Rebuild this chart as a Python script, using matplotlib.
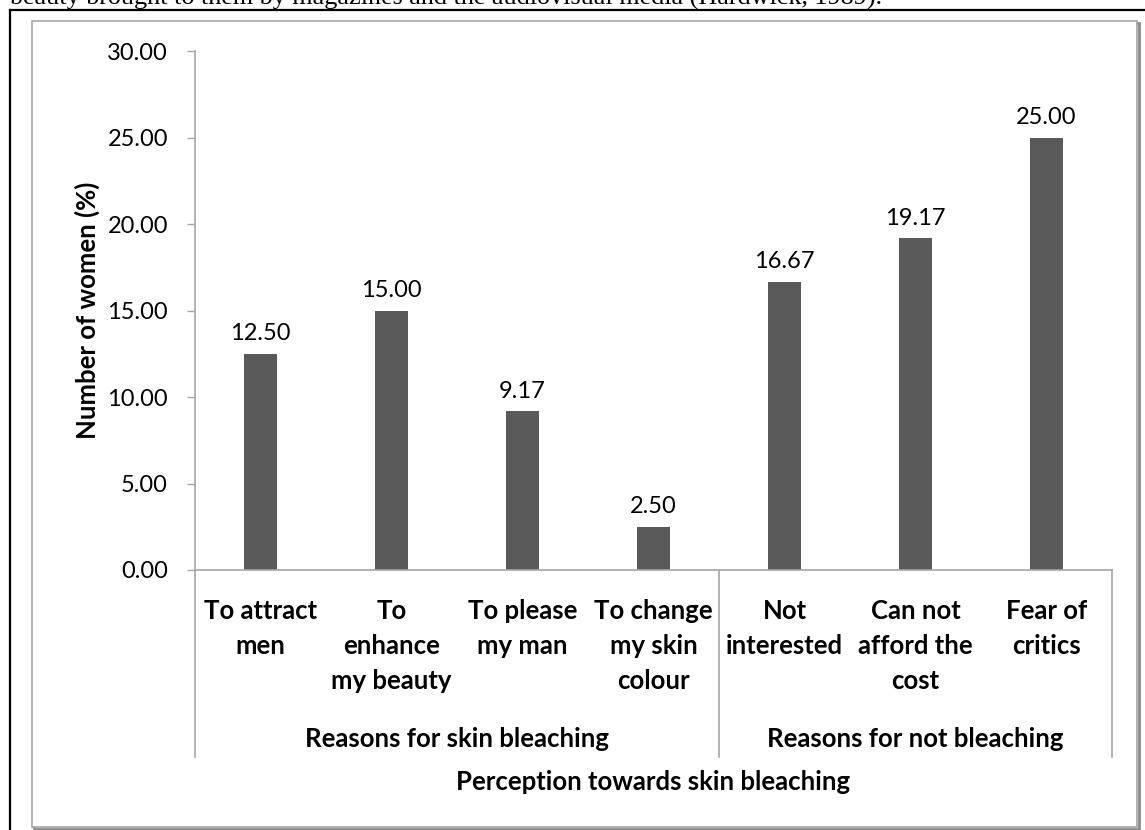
import matplotlib.pyplot as plt
from matplotlib.patches import Rectangle
from matplotlib.lines import Line2D

# data
categories = ['To attract\nmen', 'To\nenhance\nmy beauty', 'To please\nmy man',
              'To change\nmy skin\ncolour', 'Not\ninterested',
              'Can not\nafford the\ncost', 'Fear of\ncritics']
values = [12.50, 15.00, 9.17, 2.50, 16.67, 19.17, 25.00]
groups = ['Reasons for skin bleaching', 'Reasons for not bleaching']
group_sizes = [4, 3]
yticks = [0, 5, 10, 15, 20, 25, 30]

plt.rcParams['font.family'] = ['Lato', 'DejaVu Sans']

W, H = 1145, 830
fig = plt.figure(figsize=(W / 100, H / 100), dpi=100)

def fx(px):
    return px / W

def fy(py):
    return 1 - py / H

# cut-off text line above the figure box
fig.text(fx(10), fy(5), 'beauty brought to them by magazines and the audiovisual media (Hardwick, 1989).',
         family='Liberation Serif', fontsize=18.8, va='baseline', ha='left')

# black frame (left + top)
fig.add_artist(Line2D([fx(10), fx(10)], [fy(10), 0], color='black', lw=1.6))
fig.add_artist(Line2D([fx(10), 1], [fy(10), fy(10)], color='black', lw=1.6))

# chart box with a small shadow
fig.add_artist(Rectangle((fx(34), fy(829)), fx(1139) - fx(34), fy(23) - fy(829),
                         facecolor='none', edgecolor='#8c8c8c', lw=2.0, zorder=-2))
fig.add_artist(Rectangle((fx(32), fy(827)), fx(1137) - fx(32), fy(21) - fy(827),
                         facecolor='white', edgecolor='#a6a6a6', lw=1.2, zorder=-1))

ax = fig.add_axes([fx(195), fy(570), fx(1112) - fx(195), fy(51) - fy(570)])
ax.set_facecolor('none')
x = list(range(len(values)))
ax.bar(x, values, width=0.245, color='#5a5a5a')

for xi, v in zip(x, values):
    ax.annotate(f'{v:.2f}', (xi, v), xytext=(0, 7), textcoords='offset points',
                ha='center', va='bottom', fontsize=17)

ax.set_xlim(-0.5, len(values) - 0.5)
ax.set_ylim(0, 30)
ax.set_yticks(yticks)
ax.set_yticklabels([f'{t:.2f}' for t in yticks], fontsize=17)
ax.tick_params(axis='y', length=6, width=1, color='#a6a6a6', pad=13.5)
ax.set_xticks([])
for s in ['top', 'right']:
    ax.spines[s].set_visible(False)
for s in ['left', 'bottom']:
    ax.spines[s].set_color('#a6a6a6')
    ax.spines[s].set_linewidth(1.2)

ax.set_ylabel('Number of women (%)', fontsize=18.5, fontweight='bold', labelpad=5)

# category labels
trans = ax.get_xaxis_transform()
for xi, lab in zip(x, categories):
    ax.text(xi, -0.055, lab, transform=trans, ha='center', va='top',
            fontsize=18.5, fontweight='bold', linespacing=1.55)

# group separators and labels
sep = -0.5
seps = [sep]
for n in group_sizes:
    sep += n
    seps.append(sep)
for s in seps:
    ax.add_line(Line2D([s, s], [0, -0.36], transform=trans, color='#a6a6a6',
                       lw=1.2, clip_on=False))
for i, g in enumerate(groups):
    ax.text((seps[i] + seps[i + 1]) / 2, -0.341, g, transform=trans, ha='center',
            va='baseline', fontsize=18.5, fontweight='bold')

ax.text(0.5, -0.424, 'Perception towards skin bleaching', transform=ax.transAxes,
        ha='center', va='baseline', fontsize=18.5, fontweight='bold')

fig.savefig('out.png', dpi=100)
